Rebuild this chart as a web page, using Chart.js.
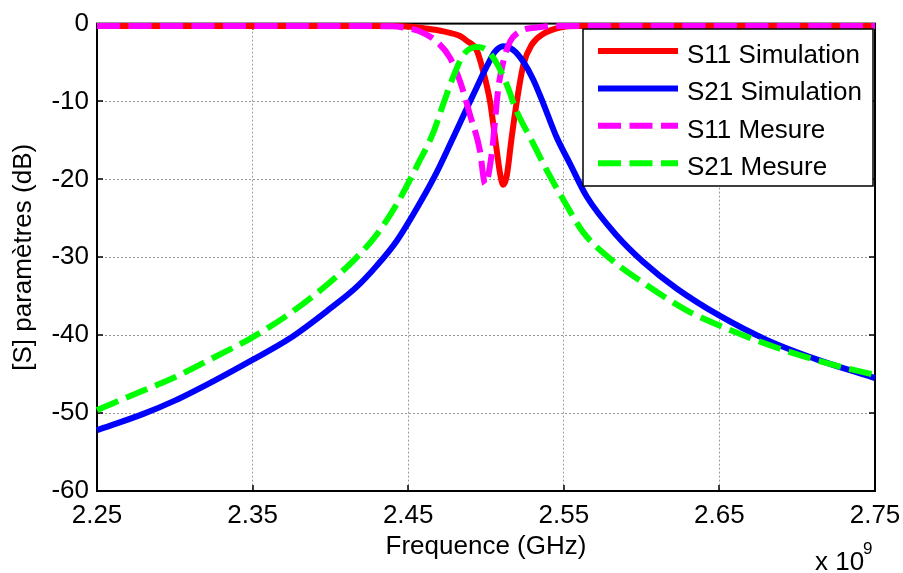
<!DOCTYPE html>
<html>
<head>
<meta charset="utf-8">
<title>Paramètres S</title>
<script src="https://cdn.jsdelivr.net/npm/chart.js@4.4.1/dist/chart.umd.min.js"></script>
<style>
    html, body { margin: 0; padding: 0; background: #fff; }
    #graphique { display: block; }
</style>
</head>
<body>
<canvas id="graphique" width="903" height="573"></canvas>
<script>
// valeurs : frequence en GHz, niveaux en dB
const freqS11Sim = [2.25, 2.40, 2.44, 2.452, 2.46, 2.4726, 2.4833, 2.4876, 2.494, 2.4983, 2.5026, 2.5058, 2.509, 2.5111, 2.5133, 2.5165, 2.5198, 2.524, 2.5294, 2.5369, 2.5476, 2.56, 2.65, 2.75];
const s11Sim = [-0.3, -0.3, -0.3, -0.4, -0.6, -1.0, -1.6, -2.2, -3.4, -6.2, -10.0, -14.6, -19.2, -20.7, -19.6, -14.6, -10.0, -5.3, -2.7, -1.3, -0.5, -0.3, -0.3, -0.3];

const freqS21Sim = [2.25, 2.2798, 2.30, 2.3267, 2.3496, 2.374, 2.3997, 2.4169, 2.4297, 2.4426, 2.4576, 2.4683, 2.4769, 2.4855, 2.494, 2.5005, 2.5058, 2.5111, 2.5176, 2.524, 2.5304, 2.5369, 2.5454, 2.554, 2.5647, 2.584, 2.6011, 2.6225, 2.6493, 2.6804, 2.7125, 2.75];
const s21Sim = [-52.2, -50.1, -48.4, -45.7, -43.2, -40.4, -36.6, -33.8, -31.1, -27.9, -23.0, -19.1, -15.5, -11.8, -8.2, -5.5, -3.6, -2.9, -3.4, -4.9, -7.2, -10.3, -14.6, -18.0, -22.2, -27.2, -30.6, -34.0, -37.4, -40.6, -43.1, -45.5];

const freqS11Mes = [2.25, 2.40, 2.44, 2.4469, 2.4576, 2.4683, 2.4769, 2.4833, 2.4897, 2.4961, 2.4994, 2.5037, 2.5058, 2.5079, 2.5111, 2.5155, 2.5219, 2.5326, 2.545, 2.65, 2.75];
const s11Mes = [-0.3, -0.3, -0.35, -0.5, -1.0, -2.3, -4.4, -7.4, -11.7, -16.3, -20.6, -16.7, -12.5, -8.3, -4.9, -2.3, -1.0, -0.5, -0.3, -0.3, -0.3];

const freqS21Mes = [2.25, 2.2798, 2.30, 2.3267, 2.3496, 2.374, 2.3997, 2.4169, 2.4297, 2.4426, 2.4576, 2.4661, 2.4726, 2.479, 2.4855, 2.494, 2.5005, 2.5069, 2.5133, 2.5198, 2.5283, 2.539, 2.5497, 2.5625, 2.5775, 2.599, 2.629, 2.6589, 2.6911, 2.7232, 2.75];
const s21Mes = [-49.6, -47.1, -45.4, -42.7, -40.3, -37.2, -33.2, -30.0, -27.1, -23.2, -17.5, -14.0, -10.3, -6.8, -4.0, -3.0, -3.4, -5.1, -7.8, -11.3, -14.6, -18.8, -22.6, -26.8, -29.8, -33.0, -36.8, -39.5, -41.9, -43.8, -45.1];

const xTicks = [2.25, 2.35, 2.45, 2.55, 2.65, 2.75];
const yTicks = [-60, -50, -40, -30, -20, -10, 0];
const nomsSeries = ['S11 Simulation', 'S21 Simulation', 'S11 Mesure', 'S21 Mesure'];

const police = { family: "'Liberation Sans', Arial, sans-serif", size: 26 };
const tirets = [23, 8.5];

function points(freqs, vals) {
    return freqs.map((f, i) => ({ x: f, y: vals[i] }));
}

function serie(nom, data, couleur, dash, ordre) {
    return {
        label: nom,
        data: data,
        borderColor: couleur,
        backgroundColor: couleur,
        borderWidth: 6,
        borderDash: dash,
        borderCapStyle: 'butt',
        pointRadius: 0,
        cubicInterpolationMode: 'monotone',
        fill: false,
        clip: false,
        order: ordre
    };
}

// cadre noir + petites graduations vers l'interieur (style matlab)
const cadre = {
    id: 'cadre',
    beforeDatasetsDraw(chart) {
        const { ctx, chartArea: a, scales: { x, y } } = chart;
        ctx.save();
        ctx.strokeStyle = '#000';
        ctx.lineWidth = 2;
        ctx.strokeRect(a.left, a.top, a.right - a.left, a.bottom - a.top);
        ctx.lineWidth = 1.5;
        ctx.beginPath();
        for (const v of xTicks) {
            const px = Math.round(x.getPixelForValue(v));
            ctx.moveTo(px, a.bottom); ctx.lineTo(px, a.bottom - 6);
            ctx.moveTo(px, a.top); ctx.lineTo(px, a.top + 6);
        }
        for (const v of yTicks) {
            const py = Math.round(y.getPixelForValue(v));
            ctx.moveTo(a.left, py); ctx.lineTo(a.left + 6, py);
            ctx.moveTo(a.right, py); ctx.lineTo(a.right - 6, py);
        }
        ctx.stroke();
        ctx.restore();
    }
};

const legende = {
    id: 'legende',
    afterDatasetsDraw(chart) {
        const ctx = chart.ctx;
        ctx.save();
        ctx.fillStyle = '#fff';
        ctx.fillRect(583, 29, 290, 157);
        ctx.strokeStyle = '#000';
        ctx.lineWidth = 1.5;
        ctx.strokeRect(583, 29, 290, 157);
        ctx.font = police.size + 'px ' + police.family;
        ctx.textBaseline = 'alphabetic';
        chart.data.datasets.forEach((ds, i) => {
            const yy = 51 + i * 37.4;
            ctx.beginPath();
            ctx.strokeStyle = ds.borderColor;
            ctx.lineWidth = 6;
            ctx.lineCap = 'butt';
            ctx.setLineDash(ds.borderDash || []);
            ctx.moveTo(598, yy);
            ctx.lineTo(678, yy);
            ctx.stroke();
            ctx.setLineDash([]);
            ctx.fillStyle = '#000';
            ctx.fillText(ds.label, 687, yy + 12);
        });
        ctx.restore();
    },
    afterDraw(chart) {
        const ctx = chart.ctx;
        ctx.save();
        ctx.fillStyle = '#000';
        ctx.textBaseline = 'alphabetic';
        ctx.font = police.size + 'px ' + police.family;
        ctx.fillText('x 10', 815, 570);
        ctx.font = '17px ' + police.family;
        ctx.fillText('9', 863, 554);
        ctx.restore();
    }
};

const ctx = document.getElementById('graphique').getContext('2d');
new Chart(ctx, {
    type: 'line',
    data: {
        datasets: [
            serie(nomsSeries[0], points(freqS11Sim, s11Sim), '#ff0000', [], 4),
            serie(nomsSeries[1], points(freqS21Sim, s21Sim), '#0000ff', [], 3),
            serie(nomsSeries[2], points(freqS11Mes, s11Mes), '#ff00ff', tirets, 2),
            serie(nomsSeries[3], points(freqS21Mes, s21Mes), '#00ff00', tirets, 1)
        ]
    },
    options: {
        responsive: false,
        animation: false,
        events: [],
        layout: { padding: { top: 18, right: 28, left: 0, bottom: 0 } },
        plugins: { legend: { display: false }, tooltip: { enabled: false } },
        scales: {
            x: {
                type: 'linear',
                min: 2.25,
                max: 2.75,
                afterBuildTicks: s => { s.ticks = xTicks.map(v => ({ value: v })); },
                afterFit: s => { s.height = 82; s.paddingLeft = 0; s.paddingRight = 0; },
                grid: { color: '#999', lineWidth: 1, drawTicks: false },
                border: { display: false, dash: [2, 2] },
                ticks: { font: police, color: '#000', padding: 9, maxRotation: 0, autoSkip: false, callback: v => v.toFixed(2) },
                title: { display: true, text: 'Frequence (GHz)', font: police, color: '#000', padding: { top: 0, bottom: 11 } }
            },
            y: {
                type: 'linear',
                min: -60,
                max: 0,
                afterBuildTicks: s => { s.ticks = yTicks.map(v => ({ value: v })); },
                afterFit: s => { s.width = 97; },
                grid: { color: '#999', lineWidth: 1, drawTicks: false },
                border: { display: false, dash: [2, 2] },
                ticks: { font: police, color: '#000', padding: 8 },
                title: { display: true, text: '[S] paramètres (dB)', font: police, color: '#000', padding: { top: 8, bottom: 0 } }
            }
        }
    },
    plugins: [cadre, legende]
});
</script>
</body>
</html>
